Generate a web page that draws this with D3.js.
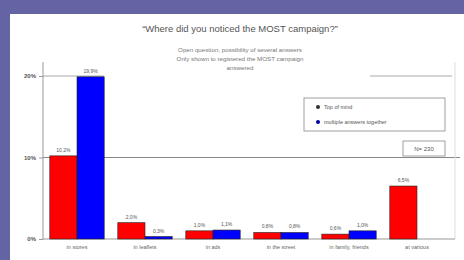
<!DOCTYPE html>
<html>
<head>
<meta charset="utf-8">
<script src="https://cdn.jsdelivr.net/npm/d3@7"></script>
<style>
  body { margin: 0; background: #6464a4; }
  svg { display: block; font-family: Arial, "Liberation Sans", sans-serif; }
</style>
</head>
<body>
<div id="chart"></div>
<script>
const categories = ["in stores", "in leaflets", "in ads", "in the street", "in family, friends", "at various"];
const topOfMind = [10.2, 2.0, 1.0, 0.8, 0.6, 6.5];
const multiple = [19.9, 0.3, 1.1, 0.8, 1.0, null];
const topLabels = ["10,2%", "2,0%", "1,0%", "0,8%", "0,6%", "6,5%"];
const multLabels = ["19,9%", "0,3%", "1,1%", "0,8%", "1,0%", ""];
const yTicks = [0, 10, 20];
const seriesNames = ["Top of mind", "multiple answers together"];
const seriesColors = ["#ff0000", "#0000ff"];

const width = 464, height = 260;
const svg = d3.select("#chart").append("svg").attr("width", width).attr("height", height);

// white panel
svg.append("rect").attr("x", 10).attr("y", 14).attr("width", width - 10).attr("height", height - 14).attr("fill", "#fff");

const x = d3.scaleBand().domain(categories).range([43, 451]).paddingInner(0.2).paddingOuter(0.1);
const x1 = d3.scaleBand().domain([0, 1]).range([0, x.bandwidth()]);
const y = d3.scaleLinear().domain([0, 20]).range([239, 76]);

// gridlines
svg.append("line").attr("x1", 43).attr("x2", 452).attr("y1", y(20)).attr("y2", y(20)).attr("stroke", "#aaa");
svg.append("line").attr("x1", 43).attr("x2", 460).attr("y1", y(10)).attr("y2", y(10)).attr("stroke", "#888");
svg.append("line").attr("x1", 455).attr("x2", 455).attr("y1", 62).attr("y2", 239).attr("stroke", "#ddd");

// titles
svg.append("rect").attr("x", 104).attr("y", 44).attr("width", 266).attr("height", 34).attr("fill", "#fff");
svg.append("text").attr("x", 240).attr("y", 32).attr("text-anchor", "middle")
  .attr("font-size", 9.5).attr("fill", "#555").text("“Where did you noticed the MOST campaign?”");
const sub = ["Open question, possibility of several answers", "Only shown to registered the MOST campaign", "answered"];
svg.append("g").selectAll("text").data(sub).join("text")
  .attr("x", 240).attr("y", (d, i) => 52 + i * 9).attr("text-anchor", "middle")
  .attr("font-size", 6.2).attr("fill", "#777").text(d => d);

// y axis
const yAxis = svg.append("g").attr("transform", "translate(43,0)")
  .call(d3.axisLeft(y).tickValues(yTicks).tickSize(4).tickFormat(d => d + "%"));
yAxis.select(".domain").attr("stroke", "#999").attr("d", "M0,62V239");
yAxis.selectAll(".tick line").attr("stroke", "#999");
yAxis.selectAll(".tick text").attr("font-size", 6).attr("fill", "#555").attr("font-weight", "bold");

// x axis
const xAxis = svg.append("g").attr("transform", "translate(0,239)")
  .call(d3.axisBottom(x).tickSize(0).tickPadding(6));
xAxis.select(".domain").attr("stroke", "#999").attr("d", "M43,0H455");
xAxis.selectAll(".tick text").attr("font-size", 5.5).attr("fill", "#666");

// bars
const series = [topOfMind, multiple];
const labels = [topLabels, multLabels];
series.forEach((vals, s) => {
  const g = svg.append("g");
  const data = categories.map((c, i) => ({ c, v: vals[i], l: labels[s][i] })).filter(d => d.v != null);
  g.selectAll("rect").data(data).join("rect")
    .attr("x", d => x(d.c) + x1(s))
    .attr("y", d => y(d.v))
    .attr("width", x1.bandwidth())
    .attr("height", d => y(0) - y(d.v))
    .attr("fill", seriesColors[s])
    .attr("stroke", "#222").attr("stroke-width", 0.6);
  g.selectAll("text").data(data).join("text")
    .attr("x", d => x(d.c) + x1(s) + x1.bandwidth() / 2)
    .attr("y", d => y(d.v) - 4)
    .attr("text-anchor", "middle").attr("font-size", 5).attr("fill", "#555")
    .text(d => d.l);
});

// legend
const legend = svg.append("g").attr("transform", "translate(304,98)");
legend.append("rect").attr("width", 141).attr("height", 33).attr("fill", "#fff").attr("stroke", "#888").attr("stroke-width", 0.8);
seriesNames.forEach((n, i) => {
  legend.append("circle").attr("cx", 14).attr("cy", 9 + i * 15).attr("r", 2).attr("fill", i === 0 ? "#333" : "#0000aa");
  legend.append("text").attr("x", 20).attr("y", 11 + i * 15).attr("font-size", 5.5).attr("fill", "#555").text(n);
});

// N box
const nb = svg.append("g").attr("transform", "translate(403,141)");
nb.append("rect").attr("width", 42).attr("height", 15).attr("fill", "#fff").attr("stroke", "#888").attr("stroke-width", 0.8);
nb.append("text").attr("x", 21).attr("y", 10).attr("text-anchor", "middle").attr("font-size", 6).attr("fill", "#555").text("N= 230");
</script>
</body>
</html>
